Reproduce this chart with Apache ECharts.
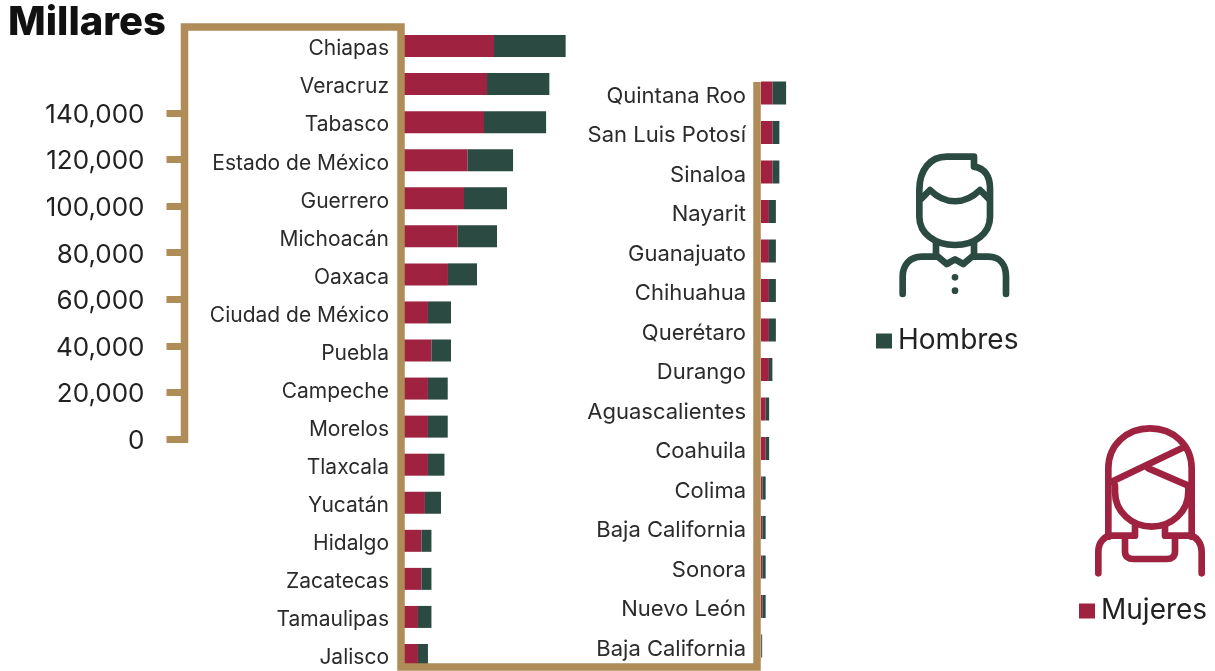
<!DOCTYPE html>
<html>
<head>
<meta charset="utf-8">
<style>
  html, body { margin: 0; padding: 0; background: #fff; }
  #chart { width: 1215px; height: 671px; }
</style>
<script src="https://cdn.jsdelivr.net/npm/echarts@6/dist/echarts.min.js"></script>
</head>
<body>
<div id="chart"></div>
<script>
// datos (millares)
const statesLeft = ['Chiapas', 'Veracruz', 'Tabasco', 'Estado de México', 'Guerrero', 'Michoacán', 'Oaxaca', 'Ciudad de México', 'Puebla', 'Campeche', 'Morelos', 'Tlaxcala', 'Yucatán', 'Hidalgo', 'Zacatecas', 'Tamaulipas', 'Jalisco'];
const womenLeft = [38700, 35700, 34400, 27300, 25800, 23100, 18900, 10300, 11800, 10300, 10300, 10300, 9000, 7500, 7500, 6000, 6000];
const menLeft = [30800, 26800, 26700, 19600, 18500, 16900, 12500, 9900, 8400, 8500, 8500, 7100, 6900, 4300, 4300, 5800, 4300];

const statesRight = ['Quintana Roo', 'San Luis Potosí', 'Sinaloa', 'Nayarit', 'Guanajuato', 'Chihuahua', 'Querétaro', 'Durango', 'Aguascalientes', 'Coahuila', 'Colima', 'Baja California', 'Sonora', 'Nuevo León', 'Baja California'];
const womenRight = [5000, 5000, 5000, 3400, 3400, 3400, 3400, 3400, 2000, 2000, 600, 600, 600, 600, 100];
const menRight = [5800, 2900, 2900, 3000, 3000, 3000, 3000, 1500, 1500, 1500, 1400, 1400, 1400, 1400, 400];

const scaleMin = 0;
const scaleMax = 140000;
const scaleStep = 20000;

const CRIMSON = '#9F2241';
const GREEN = '#2B4A41';
const GOLD = '#AF8C58';
const FONT = 'Inter, "Noto Sans", sans-serif';

var myChart = echarts.init(document.getElementById('chart'));

// boundaryGap false: la primera y ultima fila caen en el borde del grid,
// asi la ultima barra puede llegar al marco sin que el grid se salga del lienzo
function catAxis(gridIndex, data, margin, fontSize) {
  return {
    type: 'category', gridIndex, data, inverse: true, boundaryGap: false,
    axisLine: { show: false },
    axisTick: { show: false },
    splitLine: { show: false },
    // verticalAlign top + lineHeight corto baja el texto unos px
    axisLabel: { interval: 0, margin, fontFamily: FONT, fontSize, color: '#2b2b2b', verticalAlign: 'top', lineHeight: 6 },
  };
}
function barSeries(name, color, axisIndex, stack, data, barWidth) {
  return {
    name, type: 'bar', stack, xAxisIndex: axisIndex, yAxisIndex: axisIndex,
    data, barWidth, silent: true, clip: false,
    itemStyle: { color },
  };
}
function legendFor(name, left, top) {
  return {
    data: [name], left, top, icon: 'rect', itemWidth: 16, itemHeight: 15, itemGap: 0,
    selectedMode: false, padding: 0,
    textStyle: { fontFamily: FONT, fontSize: 28, color: '#222', padding: [0, 0, 0, 1] },
  };
}

// iconos dibujados en coordenadas de 3x, escalados por el grupo
const manPaths = [
  'M118 150 C118 90 150 50 200 50 L282 50 L282 80 C315 85 330 110 330 145 L330 230 C330 280 285 315 225 315 C165 315 118 280 118 230 Z',
  'M125 175 L150 150 C195 195 255 195 300 150 L325 175',
  'M168 310 L168 345 L200 372 L225 358 L250 372 L282 345 L282 310',
  'M68 462 L68 410 C68 375 90 350 125 350 L168 350',
  'M282 350 L325 350 C360 350 378 375 378 410 L378 462',
];
const womanPaths = [
  'M115 365 L115 160 C115 90 170 40 240 40 C310 40 365 90 365 160 L365 365',
  'M125 200 L335 100',
  'M235 160 L355 212',
  'M135 212 L135 230 C135 290 185 335 245 335 C305 335 355 290 355 230 L355 212',
  'M85 475 L85 410 C85 380 105 362 125 362 L195 362 L195 335',
  'M165 370 L165 410 C165 425 175 432 190 432 L290 432 C305 432 315 425 315 410 L315 370',
  'M285 335 L285 362 L360 362 C380 365 395 385 395 410 L395 475',
];
function icon(key, paths, color, x, y, extra) {
  return {
    type: 'group', x, y, scaleX: 1 / 3, scaleY: 1 / 3, silent: true,
    children: paths.map(function (p, i) {
      // graphic no acepta 'path' directo, se registra cada trazo como forma
      var shapeName = key + i;
      echarts.graphic.registerShape(shapeName, echarts.graphic.extendPath(p));
      return {
        type: shapeName,
        style: { fill: 'none', stroke: color, lineWidth: 20, lineCap: 'round', lineJoin: 'round' },
      };
    }).concat(extra || []),
  };
}

var option = {
  animation: false,
  backgroundColor: '#fff',
  title: {
    text: 'Millares', left: 8, top: 3, padding: 0,
    textStyle: { fontFamily: FONT, fontSize: 40, fontWeight: 800, color: '#111' },
  },
  legend: [legendFor('Hombres', 876, 327), legendFor('Mujeres', 1079, 597)],
  grid: [
    { left: 404, top: 46, width: 400, height: 609 },
    { left: 761, top: 93, width: 400, height: 553 },
    { left: 184.5, top: 113, width: 10, height: 326 },
  ],
  xAxis: [
    { type: 'value', gridIndex: 0, min: 0, max: 172000, show: false },
    { type: 'value', gridIndex: 1, min: 0, max: 172000, show: false },
    { type: 'value', gridIndex: 2, min: 0, max: 1, show: false },
  ],
  yAxis: [
    catAxis(0, statesLeft, 15, 21),
    catAxis(1, statesRight, 15, 22),
    {
      type: 'value', gridIndex: 2, min: scaleMin, max: scaleMax, interval: scaleStep,
      axisLine: { show: false },
      splitLine: { show: false },
      axisTick: { show: true, length: 18, lineStyle: { color: GOLD, width: 7 } },
      axisLabel: {
        margin: 40, fontFamily: FONT, fontSize: 26, color: '#222', verticalAlign: 'top', lineHeight: 4,
        formatter: function (v) { return v.toLocaleString('en-US'); },
      },
    },
  ],
  series: [
    barSeries('Mujeres', CRIMSON, 0, 'izq', womenLeft, 22),
    barSeries('Hombres', GREEN, 0, 'izq', menLeft, 22),
    barSeries('Mujeres', CRIMSON, 1, 'der', womenRight, 23),
    barSeries('Hombres', GREEN, 1, 'der', menRight, 23),
  ],
  graphic: [
    // marco dorado
    {
      type: 'polyline', silent: true, z: 5,
      shape: { points: [[184.5, 443], [184.5, 27], [401, 27], [401, 667], [757, 667], [757, 82]] },
      style: { fill: null, stroke: GOLD, lineWidth: 7.5 },
    },
    icon('manStroke', manPaths, GREEN, 880, 140, [
      { type: 'circle', shape: { cx: 225, cy: 412, r: 10 }, style: { fill: GREEN } },
      { type: 'circle', shape: { cx: 225, cy: 452, r: 10 }, style: { fill: GREEN } },
    ]),
    icon('womanStroke', womanPaths, CRIMSON, 1070, 415),
  ],
};
option && myChart.setOption(option);
</script>
</body>
</html>
